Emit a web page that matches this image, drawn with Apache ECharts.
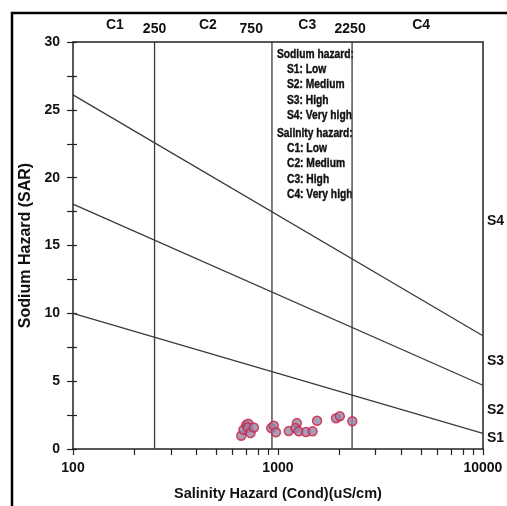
<!DOCTYPE html>
<html>
<head>
<meta charset="UTF-8">
<title>Wilcox / USSL diagram</title>
<script src="https://cdn.jsdelivr.net/npm/echarts@6/dist/echarts.min.js"></script>
</head>
<body style="margin:0;background:#fff">
<div id="main" style="width:507px;height:506px"></div>
<script type="text/javascript">
// sample points: conductivity (uS/cm) and SAR
var condValues = [662, 679, 700, 718, 713, 735, 763, 927, 955, 978, 1129, 1237, 1217, 1262, 1371, 1476, 1552, 1920, 2004, 2306];
var sarValues  = [0.98, 1.42, 1.78, 1.87, 1.58, 1.17, 1.59, 1.54, 1.71, 1.23, 1.32, 1.91, 1.54, 1.30, 1.25, 1.30, 2.08, 2.27, 2.42, 2.05];

// sodium hazard boundaries: SAR at 100 and at 10000 uS/cm
var sodiumLineStart = [26.1, 18.05, 10.0];
var sodiumLineEnd   = [8.35, 4.7, 1.15];

// salinity class boundaries (as drawn)
var salinityBounds = [250, 935, 2300];

// axis ticks / labels
var xTicks = [100, 200, 300, 400, 500, 600, 700, 800, 900, 1000, 2000, 3000, 4000, 5000, 6000, 7000, 8000, 9000, 10000];
var xLabels = [100, 1000, 10000];
var yTicks = [0, 2.5, 5, 7.5, 10, 12.5, 15, 17.5, 20, 22.5, 25, 27.5, 30];
var classPos = [160, 455, 1390, 5000];
var classNames = ['C1', 'C2', 'C3', 'C4'];
var boundPos = [250, 741, 2250];
var boundNames = ['250', '750', '2250'];
var sodiumPos = [0.8, 2.9, 6.5, 16.8];
var sodiumNames = ['S1', 'S2', 'S3', 'S4'];

var legendLines = [
    ['Sodium hazard:', 0],
    ['S1: Low', 1], ['S2: Medium', 1], ['S3: High', 1], ['S4: Very high', 1],
    ['Salinity hazard:', 0],
    ['C1: Low', 1], ['C2: Medium', 1], ['C3: High', 1], ['C4: Very high', 1]
];

var points = [];
for (var i = 0; i < condValues.length; i++) {
    points.push([condValues[i], sarValues[i]]);
}

var lineColor = '#3a3a3a';
var series = [];
for (var i = 0; i < sodiumLineStart.length; i++) {
    series.push({
        type: 'line', silent: true, symbol: 'none',
        lineStyle: {color: lineColor, width: 1.3},
        data: [[100, sodiumLineStart[i]], [10000, sodiumLineEnd[i]]]
    });
}
for (var i = 0; i < salinityBounds.length; i++) {
    series.push({
        type: 'line', silent: true, symbol: 'none',
        lineStyle: {color: lineColor, width: 1.3},
        data: [[salinityBounds[i], 0], [salinityBounds[i], 30]]
    });
}
series.push({
    type: 'scatter',
    symbolSize: 9,
    itemStyle: {color: '#9585a6', borderColor: '#d01f45', borderWidth: 1.5},
    data: points,
    z: 5
});

function mapName(pos, names) {
    return function (v) {
        for (var k = 0; k < pos.length; k++) {
            if (Math.abs(pos[k] - v) < 1e-6 * Math.max(1, pos[k])) return names[k];
        }
        return '';
    };
}

var FONT = 'Liberation Sans, Arial, sans-serif';

var legendGraphics = [];
for (var i = 0; i < legendLines.length; i++) {
    var y = 48 + i * 15.2 + (i >= 5 ? 3 : 0);
    legendGraphics.push({
        type: 'text',
        x: legendLines[i][1] ? 287 : 277,
        y: y,
        scaleX: 0.82,
        style: {
            text: legendLines[i][0],
            fill: '#111',
            stroke: '#111',
            lineWidth: 0.4,
            fontSize: 12.5,
            fontWeight: 'bold',
            fontFamily: FONT
        }
    });
}

var option = {
    animation: false,
    backgroundColor: '#fff',
    grid: {left: 73, right: 23, top: 42, bottom: 55},
    xAxis: [
        {
            type: 'log', min: 100, max: 10000, position: 'bottom',
            name: 'Salinity Hazard (Cond)(uS/cm)', nameLocation: 'middle', nameGap: 37,
            nameTextStyle: {color: '#111', fontWeight: 'bold', fontSize: 14.5, fontFamily: FONT},
            axisLine: {show: true, lineStyle: {color: '#222', width: 1.5}},
            axisTick: {show: true, length: 6, customValues: xTicks, lineStyle: {color: '#222', width: 1.2}},
            axisLabel: {customValues: xLabels, formatter: function (v) { return String(Math.round(v)); },
                margin: 12, color: '#111', fontWeight: 'bold', fontSize: 14, fontFamily: FONT},
            splitLine: {show: false}
        },
        {
            type: 'log', min: 100, max: 10000, position: 'top',
            axisLine: {show: true, onZero: false, lineStyle: {color: '#222', width: 1.5}},
            axisTick: {show: false},
            axisLabel: {customValues: classPos, formatter: mapName(classPos, classNames), margin: 10, color: '#111', fontWeight: 'bold', fontSize: 14, fontFamily: FONT},
            splitLine: {show: false}
        },
        {
            type: 'log', min: 100, max: 10000, position: 'top',
            axisLine: {show: false},
            axisTick: {show: false},
            axisLabel: {customValues: boundPos, formatter: mapName(boundPos, boundNames), margin: 6, color: '#111', fontWeight: 'bold', fontSize: 14, fontFamily: FONT},
            splitLine: {show: false}
        }
    ],
    yAxis: [
        {
            type: 'value', min: 0, max: 30, interval: 5, position: 'left',
            name: 'Sodium Hazard (SAR)', nameLocation: 'middle', nameGap: 37, nameRotate: 90,
            nameTextStyle: {color: '#111', fontWeight: 'bold', fontSize: 16, fontFamily: FONT},
            axisLine: {show: true, lineStyle: {color: '#222', width: 1.5}},
            axisTick: {show: true, length: 6, customValues: yTicks, lineStyle: {color: '#222', width: 1.2}},
            axisLabel: {margin: 13, color: '#111', fontWeight: 'bold', fontSize: 14, fontFamily: FONT},
            splitLine: {show: false}
        },
        {
            type: 'value', min: 0, max: 30, interval: 5, position: 'left',
            axisLine: {show: false},
            axisTick: {show: true, inside: true, length: 4, customValues: yTicks, lineStyle: {color: '#222', width: 1.2}},
            axisLabel: {show: false},
            splitLine: {show: false}
        },
        {
            type: 'value', min: 0, max: 30, position: 'right',
            axisLine: {show: true, onZero: false, lineStyle: {color: '#222', width: 1.5}},
            axisTick: {show: false},
            axisLabel: {customValues: sodiumPos, formatter: mapName(sodiumPos, sodiumNames), margin: 4, color: '#111', fontWeight: 'bold', fontSize: 14, fontFamily: FONT},
            splitLine: {show: false}
        }
    ],
    graphic: [
        {
            type: 'polyline',
            shape: {points: [[12, 506], [12, 13], [507, 13]]},
            style: {stroke: '#000', lineWidth: 2.5, fill: null}
        }
    ].concat(legendGraphics),
    series: series
};

var myChart = echarts.init(document.getElementById('main'));
myChart.setOption(option);
</script>
</body>
</html>
